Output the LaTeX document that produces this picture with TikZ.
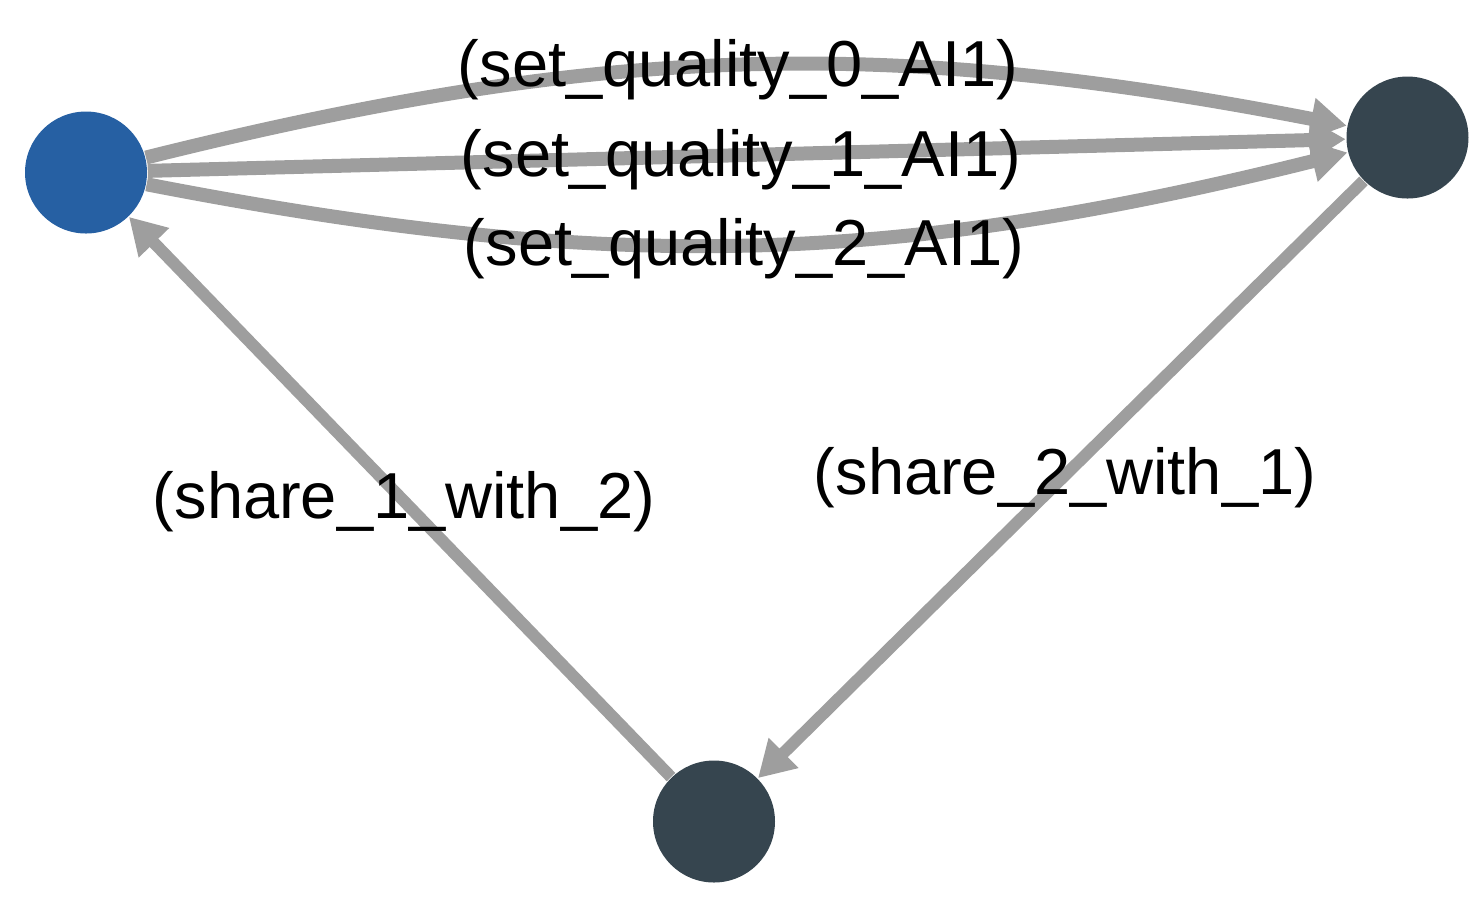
\documentclass[tikz,border=0pt]{standalone}
\usepackage{fontspec}
\setmainfont{Liberation Sans}
\usetikzlibrary{arrows.meta}
\definecolor{edgegray}{RGB}{158,158,158}
\definecolor{nodeblue}{RGB}{38,96,163}
\definecolor{nodedark}{RGB}{54,69,79}
\begin{document}
\begin{tikzpicture}[x=0.25pt,y=0.25pt,
  vert/.style={circle,minimum size=30.5pt,inner sep=0pt,draw=none},
  edge/.style={draw=edgegray,line width=3.5pt,-{Triangle[length=9pt,width=10pt]}},
  dedge/.style={edge,line width=3pt},
  lbl/.style={font=\fontsize{16.25}{19.5}\selectfont,inner sep=0pt,text=black}]
\useasboundingbox (0,0) rectangle (1481,-903);
\node[vert,fill=nodeblue] (A) at (86,-172.5) {};
\node[vert,fill=nodedark] (B) at (1407.5,-137.5) {};
\node[vert,fill=nodedark] (C) at (714,-821.5) {};
\draw[edge] (A) to[bend left=12.5] (B);
\draw[edge] (A) -- (B);
\draw[edge] (A) to[bend right=12.5] (B);
\draw[dedge] (C) -- (A);
\draw[dedge] (B) -- (C);
\node[lbl] (l0) at (738,-70) {(set\_quality\_0\_AI1)};
\node[lbl] (l1) at (741,-160) {(set\_quality\_1\_AI1)};
\node[lbl] (l2) at (744,-249) {(set\_quality\_2\_AI1)};
\node[lbl] (l3) at (404,-502) {(share\_1\_with\_2)};
\node[lbl] (l4) at (1065,-478) {(share\_2\_with\_1)};
\end{tikzpicture}
\end{document}
